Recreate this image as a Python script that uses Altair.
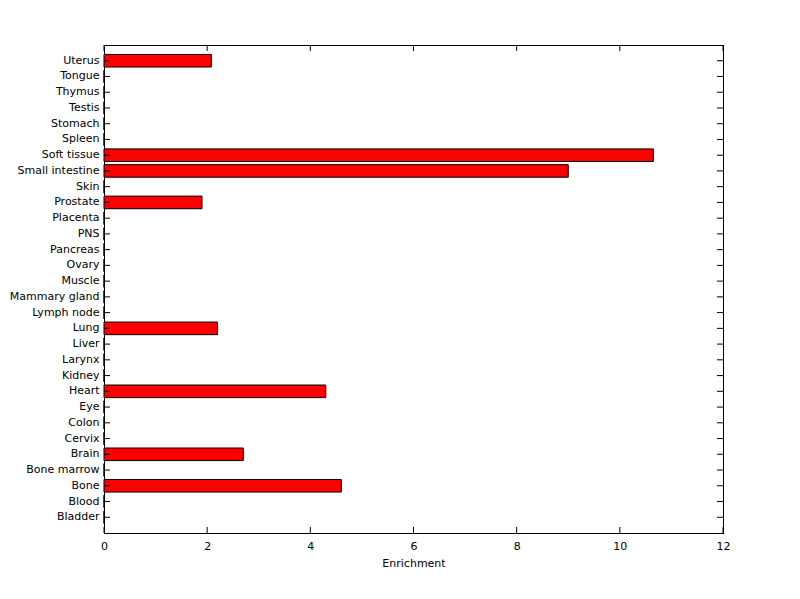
import altair as alt
import pandas as pd

categories = ["Bladder", "Blood", "Bone", "Bone marrow", "Brain", "Cervix", "Colon", "Eye",
              "Heart", "Kidney", "Larynx", "Liver", "Lung", "Lymph node", "Mammary gland",
              "Muscle", "Ovary", "Pancreas", "PNS", "Placenta", "Prostate", "Skin",
              "Small intestine", "Soft tissue", "Spleen", "Stomach", "Testis", "Thymus",
              "Tongue", "Uterus"]
values = [0, 0, 4.6, 0, 2.7, 0, 0, 0,
          4.3, 0, 0, 0, 2.2, 0, 0,
          0, 0, 0, 0, 0, 1.9, 0,
          9.0, 10.65, 0, 0, 0, 0,
          0, 2.08]
x_ticks = [0, 2, 4, 6, 8, 10, 12]

W, H = 619, 488
FONT = "DejaVu Sans"
FS = 11

df = pd.DataFrame({"tissue": categories, "enrichment": values})
tick_df = pd.DataFrame({"t": x_ticks})
order = list(reversed(categories))

yscale = alt.Scale(domain=order, paddingInner=0.2, paddingOuter=0.6)
xscale = alt.Scale(domain=[0, 12], nice=False, zero=True)

bars = alt.Chart(df).mark_bar(color="#ff0000", stroke="black", strokeWidth=1).encode(
    x=alt.X("enrichment:Q", scale=xscale,
            axis=alt.Axis(values=x_ticks, title="Enrichment", ticks=False, grid=False,
                          labelPadding=7, titlePadding=6, domainColor="black",
                          labelFlush=False, labelBound=False,
                          labelFontSize=FS, titleFontSize=FS, labelColor="black",
                          titleColor="black", titleFontWeight="normal", labelFont=FONT,
                          titleFont=FONT)),
    y=alt.Y("tissue:N", scale=yscale, sort=order,
            axis=alt.Axis(title=None, ticks=False, grid=False, labelPadding=5,
                          domainColor="black", labelFontSize=FS, labelColor="black",
                          labelFont=FONT)),
)

yl = alt.Chart(df).mark_rule(color="black").encode(
    y=alt.Y("tissue:N", scale=yscale, sort=order), x=alt.value(0), x2=alt.value(6))
yr = alt.Chart(df).mark_rule(color="black").encode(
    y=alt.Y("tissue:N", scale=yscale, sort=order), x=alt.value(W - 6), x2=alt.value(W))
xb = alt.Chart(tick_df).mark_rule(color="black").encode(
    x=alt.X("t:Q", scale=xscale), y=alt.value(H - 6), y2=alt.value(H))
xt = alt.Chart(tick_df).mark_rule(color="black").encode(
    x=alt.X("t:Q", scale=xscale), y=alt.value(0), y2=alt.value(6))
top = alt.Chart(tick_df).mark_rule(color="black").encode(
    x=alt.value(0), x2=alt.value(W + 0.5), y=alt.value(0.5))
right = alt.Chart(tick_df).mark_rule(color="black").encode(
    x=alt.value(W + 0.5), y=alt.value(0), y2=alt.value(H + 0.5))

chart = alt.layer(bars, yl, yr, xb, xt, top, right).properties(
    width=W, height=H,
    autosize=alt.AutoSizeParams(type="none"),
    padding={"left": 96, "top": 37, "right": 69, "bottom": 58},
).configure_view(strokeWidth=0).configure(background="white")

chart.save("out.html", embed_options={"renderer": "svg", "actions": False})
